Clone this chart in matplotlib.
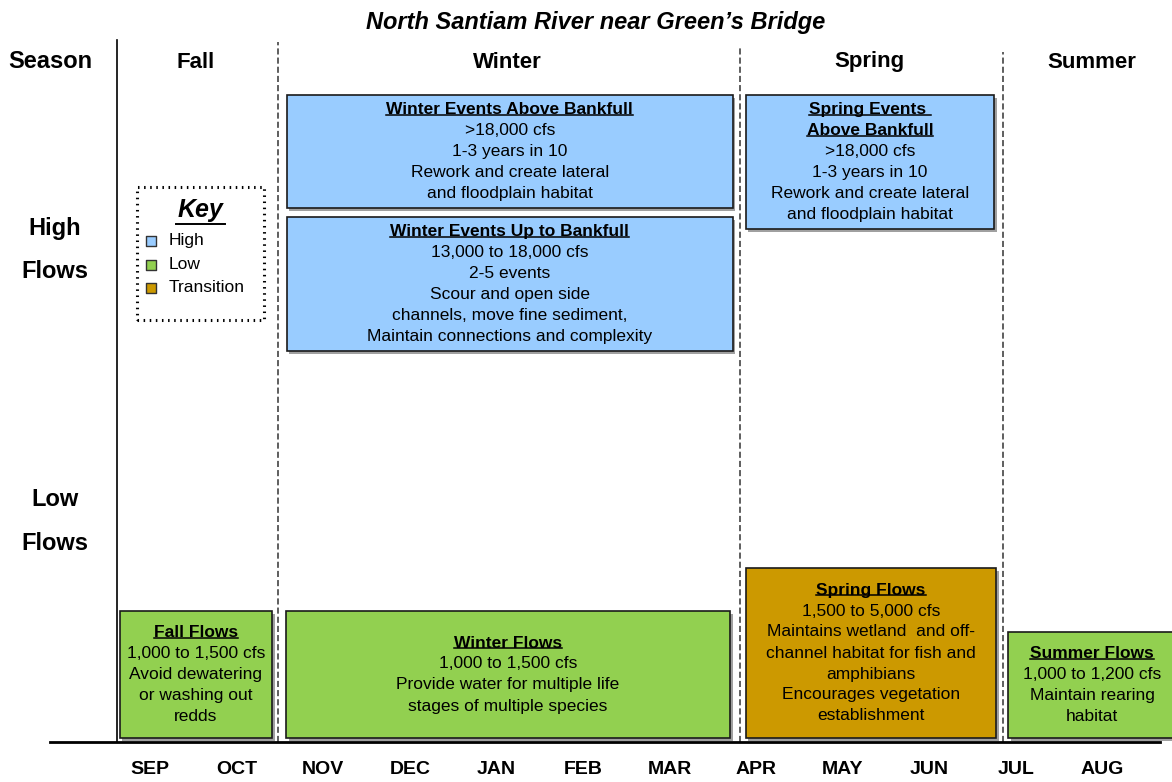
import matplotlib.pyplot as plt
from matplotlib.patches import Rectangle

plt.rcParams['font.family'] = ['Liberation Sans', 'DejaVu Sans']

title = "North Santiam River near Green\u2019s Bridge"
months = ['SEP', 'OCT', 'NOV', 'DEC', 'JAN', 'FEB', 'MAR', 'APR', 'MAY', 'JUN', 'JUL', 'AUG']

# seasons: name, label position (month index)
seasons = ['Fall', 'Winter', 'Spring', 'Summer']
season_pos = [0.53, 4.13, 8.31, 10.88]
# season boundaries (month index)
season_breaks = [1.48, 6.81, 9.85]

# flow boxes: month start, month end, bottom, top (flow level units), kind
box_titles = ['Fall Flows', 'Winter Flows', 'Spring Flows', 'Summer Flows',
              'Winter Events Above Bankfull', 'Winter Events Up to Bankfull',
              'Spring Events \nAbove Bankfull']
box_text = [
    "1,000 to 1,500 cfs\nAvoid dewatering\nor washing out\nredds",
    "1,000 to 1,500 cfs\nProvide water for multiple life\nstages of multiple species",
    "1,500 to 5,000 cfs\nMaintains wetland  and off-\nchannel habitat for fish and\namphibians\nEncourages vegetation\nestablishment",
    "1,000 to 1,200 cfs\nMaintain rearing\nhabitat",
    ">18,000 cfs\n1-3 years in 10\nRework and create lateral\nand floodplain habitat",
    "13,000 to 18,000 cfs\n2-5 events\nScour and open side\nchannels, move fine sediment,\nMaintain connections and complexity",
    ">18,000 cfs\n1-3 years in 10\nRework and create lateral\nand floodplain habitat",
]
box_start = [-0.35, 1.57, 6.88, 9.91, 1.58, 1.58, 6.88]
box_end = [1.41, 6.70, 9.77, 11.85, 6.73, 6.73, 9.75]
box_bottom = [4, 4, 4, 4, 534, 391, 513]
box_top = [131, 131, 174, 110, 647, 525, 647]
box_kind = ['Low', 'Low', 'Transition', 'Low', 'High', 'High', 'High']

key_labels = ['High', 'Low', 'Transition']
colors = {'High': '#99CCFF', 'Low': '#92D050', 'Transition': '#CC9900'}

fig = plt.figure(figsize=(11.72, 7.82), dpi=100)
ax = fig.add_axes([0, 0, 1, 1])
# x in months (SEP = 0), y in flow-level units above the baseline
px = 86.6
ax.set_xlim(-150 / px, (1172 - 150) / px)
ax.set_ylim(-40, 742)
ax.axis('off')

# title and headers
ax.text(5.15, 720, title, ha='center', va='center', fontsize=17,
        fontweight='bold', fontstyle='italic')
ax.text(-1.15, 681, 'Season', ha='center', va='center', fontsize=17, fontweight='bold')
for s, p in zip(seasons, season_pos):
    ax.text(p, 680, s, ha='center', va='center', fontsize=16, fontweight='bold')

for lab, y in [('High', 514), ('Flows', 470), ('Low', 242), ('Flows', 198)]:
    ax.text(-1.1, y, lab, ha='center', va='center', fontsize=17, fontweight='bold')

# frame lines
ax.plot([-0.38, -0.38], [0, 702], color='black', lw=1.2)
for b, top in zip(season_breaks, [700, 695, 690]):
    ax.plot([b, b], [0, top], color='#333333', lw=1.1, ls=(0, (4, 2)))
ax.plot([-1.15, 11.66], [0, 0], color='black', lw=2.0)

for i, m in enumerate(months):
    ax.text(i, -28, m, ha='center', va='center', fontsize=14, fontweight='bold')

# flow boxes
step = 21
for t, txt, x0, x1, y0, y1, k in zip(box_titles, box_text, box_start, box_end,
                                     box_bottom, box_top, box_kind):
    ax.add_patch(Rectangle((x0 + 0.03, y0 - 3), x1 - x0, y1 - y0, facecolor='#a0a0a0',
                           edgecolor='none', zorder=1))
    ax.add_patch(Rectangle((x0, y0), x1 - x0, y1 - y0, facecolor=colors[k],
                           edgecolor='#1a1a1a', lw=1.2, zorder=2))
    title_lines = t.split('\n')
    body_lines = txt.split('\n')
    n = len(title_lines) + len(body_lines)
    cx = (x0 + x1) / 2
    y_first = (y0 + y1) / 2 + (n - 1) * step / 2
    for j, line in enumerate(title_lines):
        ax.text(cx, y_first - j * step, line, ha='center', va='center',
                fontsize=12.5, fontweight='bold', zorder=3, gid='boxtitle')
    for j, line in enumerate(body_lines):
        yy = y_first - (len(title_lines) + j) * step
        ax.text(cx, yy, line, ha='center', va='center', fontsize=12.5, zorder=3)

# underline box titles
fig.canvas.draw()
renderer = fig.canvas.get_renderer()
inv = ax.transData.inverted()
for tx in list(ax.texts):
    if tx.get_gid() == 'boxtitle':
        bb = tx.get_window_extent(renderer)
        (a0, b0), (a1, b1) = inv.transform([[bb.x0, bb.y0], [bb.x1, bb.y1]])
        ax.plot([a0, a1], [b0 + 2.5, b0 + 2.5], color='black', lw=1.1, zorder=3)

# key
kx0, kx1 = -0.15, 1.32
ky0, ky1 = 422, 555
ax.add_patch(Rectangle((kx0, ky0), kx1 - kx0, ky1 - ky0, facecolor='none',
                       edgecolor='black', lw=2.2, ls=(0, (0.5, 1.5)), zorder=2))
ax.text(0.58, 532, 'Key', ha='center', va='center', fontsize=18,
        fontweight='bold', fontstyle='italic')
ax.plot([0.3, 0.87], [518, 518], color='black', lw=1.4)
for j, lab in enumerate(key_labels):
    yy = 501 - j * 23.5
    ax.scatter([0.01], [yy], marker='s', s=45, facecolor=colors[lab],
               edgecolor='#333333', lw=1.0, zorder=3)
    ax.text(0.21, yy, lab, ha='left', va='center', fontsize=12.5)

fig.savefig('out.png', dpi=100)
